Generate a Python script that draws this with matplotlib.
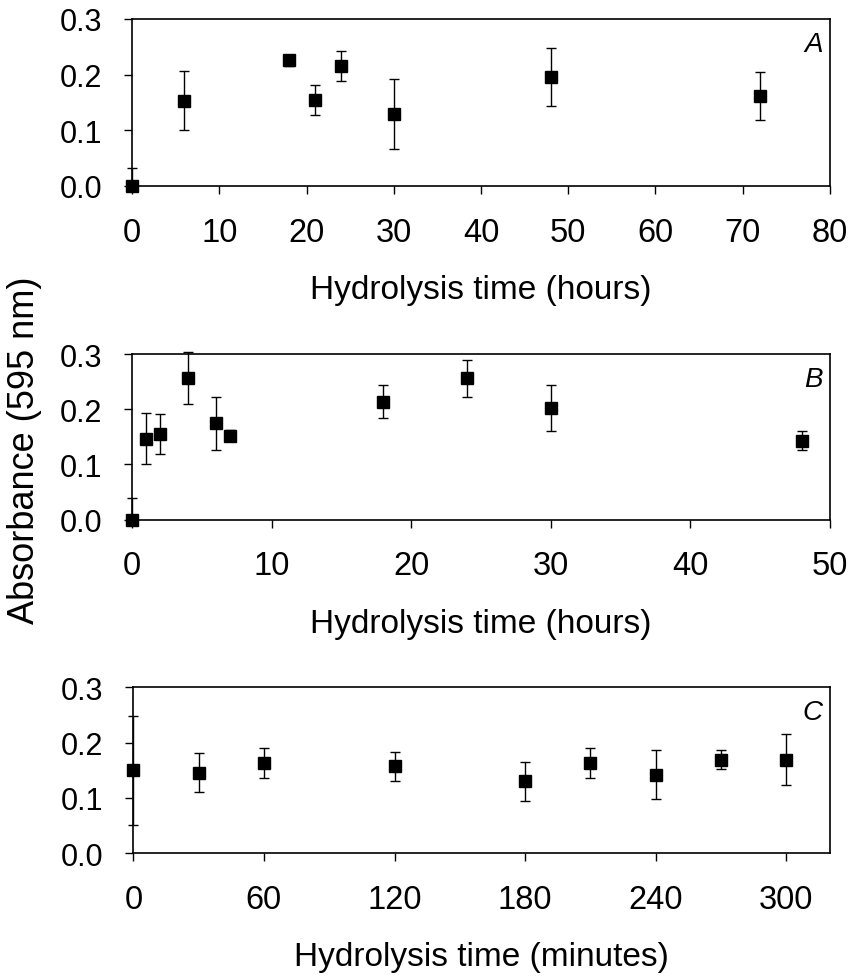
import numpy as np
import matplotlib
matplotlib.use("Agg")
import matplotlib.pyplot as plt

plt.rcParams['font.family'] = ['Liberation Sans', 'DejaVu Sans']

# panel A - hours
a_time = [0, 6, 18, 21, 24, 30, 48, 72]
a_abs = [0.0, 0.153, 0.226, 0.154, 0.216, 0.129, 0.195, 0.162]
a_err = [0.032, 0.053, 0.01, 0.027, 0.027, 0.063, 0.052, 0.043]

# panel B - hours
b_time = [0, 1, 2, 4, 6, 7, 18, 24, 30, 48]
b_abs = [0.0, 0.147, 0.155, 0.256, 0.175, 0.152, 0.214, 0.256, 0.202, 0.143]
b_err = [0.039, 0.047, 0.036, 0.047, 0.048, 0.01, 0.030, 0.034, 0.042, 0.017]

# panel C - minutes
c_time = [0, 30, 60, 120, 180, 210, 240, 270, 300]
c_abs = [0.150, 0.146, 0.163, 0.157, 0.130, 0.163, 0.142, 0.169, 0.169]
c_err = [0.098, 0.036, 0.027, 0.026, 0.035, 0.027, 0.044, 0.017, 0.046]

panels = [
    (a_time, a_abs, a_err, (0, 80), np.arange(0, 81, 10), 'Hydrolysis time (hours)', 'A'),
    (b_time, b_abs, b_err, (0, 50), np.arange(0, 51, 10), 'Hydrolysis time (hours)', 'B'),
    (c_time, c_abs, c_err, (0, 320), np.arange(0, 301, 60), 'Hydrolysis time (minutes)', 'C'),
]

fig = plt.figure(figsize=(8.52, 9.78), dpi=100)
boxes = [(0.155, 0.8088, 0.819, 0.1708),
         (0.155, 0.4676, 0.819, 0.1694),
         (0.1565, 0.1265, 0.8175, 0.1697)]

for (t, v, e, xl, xt, lab, letter), box in zip(panels, boxes):
    ax = fig.add_axes(box)
    v = np.array(v)
    e = np.array(e)
    lower = np.minimum(e, v)
    ax.errorbar(t, v, yerr=[lower, e], fmt='s', color='black', ms=8.5,
                elinewidth=1, capsize=3.3, capthick=1, clip_on=False, zorder=3)
    ax.set_xlim(*xl)
    ax.set_ylim(0, 0.3)
    ax.set_xticks(xt)
    ax.set_yticks([0, 0.1, 0.2, 0.3])
    ax.set_yticklabels(['0.0', '0.1', '0.2', '0.3'])
    ax.tick_params(axis='x', direction='out', length=6, width=1, labelsize=23.5, pad=16)
    ax.tick_params(axis='y', direction='out', length=6, width=1, labelsize=22, pad=15.5)
    for s in ax.spines.values():
        s.set_linewidth(1.2)
    ax.set_xlabel(lab, fontsize=24, labelpad=19)
    ax.text(0.99, 0.85, letter, transform=ax.transAxes, ha='right', va='center',
            fontsize=20, fontstyle='italic')

fig.text(25 / 852, 1 - 450 / 978, 'Absorbance (595 nm)', rotation=90,
         ha='center', va='center', fontsize=26)

fig.savefig('out.png', dpi=100)
